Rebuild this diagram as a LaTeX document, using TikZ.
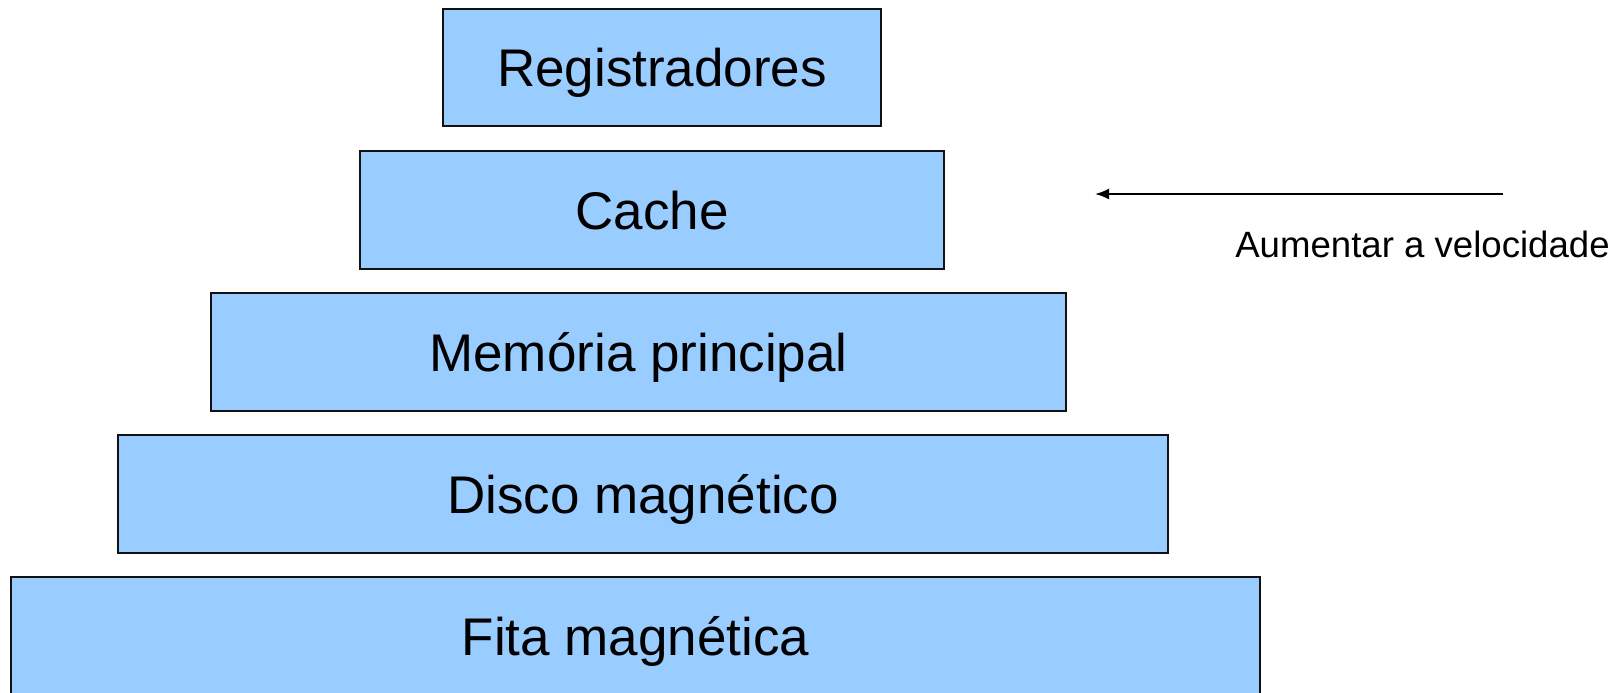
\documentclass[tikz,border=0pt]{standalone}
\usepackage{fontspec}
\setmainfont{Liberation Sans}
\usetikzlibrary{arrows.meta}
\definecolor{boxblue}{HTML}{99CCFF}
\definecolor{edge}{HTML}{111111}
\begin{document}
\begin{tikzpicture}[x=1pt,y=-1pt,
  level/.style={draw=edge, line width=2pt, fill=boxblue, rectangle, minimum height=118pt,
    inner sep=0pt, text height=38pt, text depth=0pt, font=\fontsize{53}{63}\selectfont},
  note/.style={font=\fontsize{36.6}{44}\selectfont, inner sep=0pt, anchor=base},
  speed/.style={line width=2pt, -{Latex[length=14pt,width=11pt]}}]
\useasboundingbox (0,0) rectangle (1623,693);
\clip (0,0) rectangle (1623,693);
\node[level, minimum width=438pt, minimum height=117pt] (reg) at (662,67.5) {Registradores};
\node[level, minimum width=584pt] (cache) at (652,210) {Cache};
\node[level, minimum width=855pt] (mem) at (638.5,352) {Memória principal};
\node[level, minimum width=1050pt] (disco) at (643,494) {Disco magnético};
\node[level, minimum width=1249pt] (fita) at (635.5,636) {Fita magnética};
\coordinate (astart) at (1503,194);
\coordinate (aend) at (1095,194);
\draw[speed] (astart) -- (aend);
\node[note] (lbl) at (1422.5,257) {Aumentar a velocidade};
\end{tikzpicture}
\end{document}
